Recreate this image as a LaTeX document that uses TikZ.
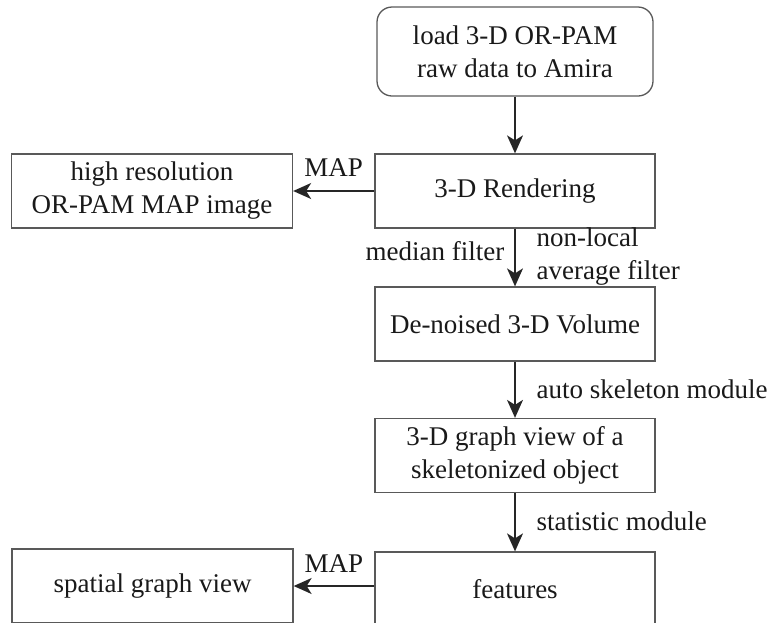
\documentclass[tikz,border=0pt]{standalone}
\usepackage{fontspec}
\setmainfont{Liberation Serif}
\usepackage{tikz}
\usetikzlibrary{arrows.meta,positioning}
\newcommand{\flowfont}{\fontsize{27}{33}\selectfont}
\tikzset{
  box/.style={draw=black!65,line width=1.3pt,minimum width=280pt,minimum height=74pt,
    inner sep=0pt,align=center,font=\flowfont,text=black!90},
  startbox/.style={box,rounded corners=15pt,minimum width=276pt,minimum height=89pt},
  flow/.style={line width=1.4pt,black!85,-{Stealth[length=18pt,width=16pt,inset=5pt]}},
  lbl/.style={font=\flowfont,text=black!90,inner sep=0pt},
}

\begin{document}
\begin{tikzpicture}[x=1pt,y=-1pt]
    \useasboundingbox (0,0) rectangle (770,622);
    \clip (0,0) rectangle (770,622);
    % main column
    \node[startbox] (load) at (515,51.5) {load 3-D OR-PAM\\raw data to Amira};
    \node[box] (render) at (515,191) {3-D Rendering};
    \node[box] (denoise) at (515,324) {De-noised 3-D Volume};
    \node[box] (skel) at (515,455.5) {3-D graph view of a\\skeletonized object};
    \node[box] (feat) at (515,589) {features};
    % side outputs
    \node[box,minimum width=281pt] (mapimg) at (152,191) {high resolution\\OR-PAM MAP image};
    \node[box,minimum width=281pt] (spatial) at (152.5,586) {spatial graph view};
    % arrows down the column
    \draw[flow] (load) -- (render);
    \draw[flow] (render) -- node[lbl,pos=0.39,left=10pt] {median filter}
      node[lbl,pos=0.49,right=21pt,align=left] {non-local\\average filter} (denoise);
    \draw[flow] (denoise) -- node[lbl,pos=0.49,right=21pt] {auto skeleton module} (skel);
    \draw[flow] (skel) -- node[lbl,pos=0.49,right=21pt] {statistic module} (feat);
    % MAP projections
    \draw[flow] (render) -- node[lbl,above=14pt] {MAP} (mapimg);
    \draw[flow] (feat.west |- spatial) -- node[lbl,above=13pt] {MAP} (spatial);
\end{tikzpicture}
\end{document}
